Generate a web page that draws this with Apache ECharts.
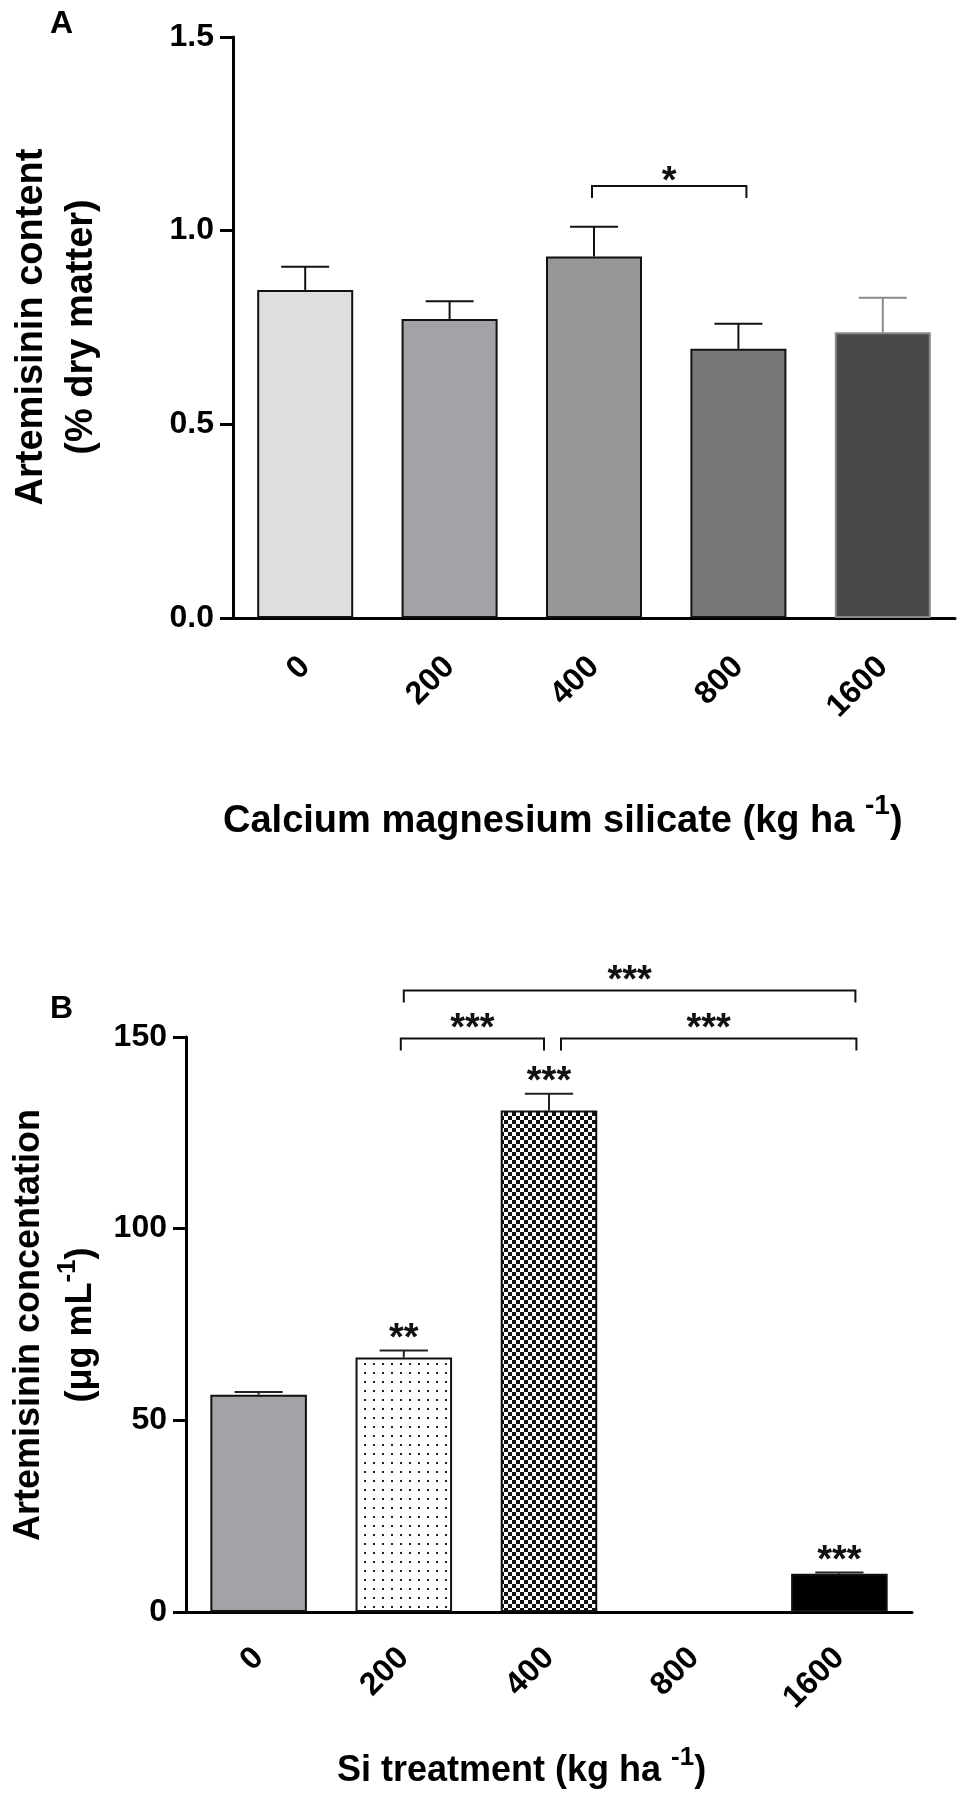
<!DOCTYPE html>
<html>
<head>
<meta charset="UTF-8">
<title>Artemisinin content</title>
<script src="https://cdn.jsdelivr.net/npm/echarts@6/dist/echarts.min.js"></script>
<style>
	html, body { margin: 0; padding: 0; background: #fff; }
	#main { width: 971px; height: 1806px; }
</style>
</head>
<body>
<div id="main"></div>
<script>
// ---- data ----
var categories = ['0', '200', '400', '800', '1600'];

// panel A: artemisinin content (% dry matter), mean and error
var contentMean = [0.847, 0.772, 0.933, 0.695, 0.738];
var contentErr = [0.060, 0.046, 0.077, 0.065, 0.089];
var ticksA = [0, 0.5, 1.0, 1.5];
// [from category, to category, height, label]
var bracketsA = [[2, 3, 1.115, '*']];

// panel B: artemisinin concentration (ug/mL), 800 has no bar
var concMean = [56.7, 66.4, 130.8, null, 10.0];
var concErr = [0.7, 1.8, 4.4, null, 0.3];
var ticksB = [0, 50, 100, 150];
var starsB = ['', '**', '***', '', '***'];
var bracketsB = [[1, 4, 162.1, '***'], [1, 2, 149.6, '***'], [2, 4, 149.6, '***']];

// ---- styles ----
var FONT = '"Liberation Sans", Arial, Helvetica, sans-serif';
var fillA = ['#dedede', '#a3a3a7', '#979797', '#787878', '#484848'];
var borderA = ['#111', '#111', '#111', '#111', '#8a8a8a'];
var errColorA = ['#111', '#111', '#111', '#111', '#8a8a8a'];
var nudgeA = [[-2, 8]];
var nudgeB = [[0, 16], [-3, -5], [12, 17]];
var STAR_SIZE = 38;

function makeTile(w, h, draw) {
	var c = document.createElement('canvas');
	c.width = w; c.height = h;
	draw(c.getContext('2d'));
	return c;
}
var dotTile = makeTile(9, 9, function (ctx) {
	ctx.fillStyle = '#fff'; ctx.fillRect(0, 0, 9, 9);
	ctx.fillStyle = '#222'; ctx.fillRect(4, 4, 2, 2);
});
var checkTile = makeTile(8, 8, function (ctx) {
	ctx.fillStyle = '#fff'; ctx.fillRect(0, 0, 8, 8);
	ctx.fillStyle = '#111'; ctx.fillRect(0, 0, 4, 4); ctx.fillRect(4, 4, 4, 4);
});
var fillB = ['#a3a3a7', { image: dotTile, repeat: 'repeat' }, { image: checkTile, repeat: 'repeat' }, '#fff', '#000'];

// ---- build series data ----
function barData(means, fills, borders) {
	return means.map(function (v, i) {
		if (v === null) return '-';
		return { value: v, itemStyle: { color: fills[i], borderColor: borders ? borders[i] : '#111', borderWidth: 2 } };
	});
}
function errData(means, errs) {
	var out = [];
	means.forEach(function (v, i) { if (v !== null) out.push([i, v, errs[i]]); });
	return out;
}

function errorBar(colors) {
	return function (params, api) {
		var i = api.value(0);
		var base = api.coord([i, api.value(1)]);
		var top = api.coord([i, api.value(1) + api.value(2)]);
		var half = api.size([1, 0])[0] * 0.166;
		var col = colors ? colors[i] : '#222';
		return {
			type: 'group',
			children: [
				{ type: 'line', shape: { x1: base[0], y1: base[1], x2: top[0], y2: top[1] }, style: { stroke: col, lineWidth: 2 } },
				{ type: 'line', shape: { x1: top[0] - half, y1: top[1], x2: top[0] + half, y2: top[1] }, style: { stroke: col, lineWidth: 2 } }
			]
		};
	};
}

function starStyle(text, x, y) {
	return { text: text, x: x, y: y,
		align: 'center', verticalAlign: 'middle', textAlign: 'center', textVerticalAlign: 'middle',
		fontSize: STAR_SIZE, fontWeight: 'bold', fontFamily: FONT, fill: '#111' };
}

function bracket(list, nudge, labelLift) {
	return function (params, api) {
		var k = params.dataIndex;
		var p0 = api.coord([list[k][0], list[k][2]]);
		var p1 = api.coord([list[k][1], list[k][2]]);
		var x0 = p0[0] + nudge[k][0], x1 = p1[0] + nudge[k][1], y = p0[1];
		return {
			type: 'group',
			children: [
				{ type: 'polyline', shape: { points: [[x0, y + 12], [x0, y], [x1, y], [x1, y + 12]] },
				  style: { stroke: '#111', lineWidth: 2, fill: null } },
				{ type: 'text', style: starStyle(list[k][3], (x0 + x1) / 2, y - labelLift) }
			]
		};
	};
}

function starOverBar(params, api) {
	var i = api.value(0);
	var p = api.coord([i, api.value(1) + api.value(2)]);
	return { type: 'text', style: starStyle(starsB[i], p[0], p[1] - 11) };
}

function xAxisCfg(grid, margin) {
	return {
		gridIndex: grid, type: 'category', data: categories,
		axisLine: { lineStyle: { color: '#000', width: 3 } },
		axisTick: { alignWithLabel: true, length: 13, lineStyle: { color: '#000', width: 3 } },
		axisLabel: { rotate: 45, margin: margin, color: '#000', fontSize: 32, fontWeight: 'bold', fontFamily: FONT },
		splitLine: { show: false }
	};
}
function yAxisCfg(grid, ticks, fmt) {
	return {
		gridIndex: grid, type: 'value',
		min: ticks[0], max: ticks[ticks.length - 1], interval: ticks[1] - ticks[0],
		axisLine: { show: true, lineStyle: { color: '#000', width: 3 } },
		axisTick: { show: true, length: 13, lineStyle: { color: '#000', width: 3 } },
		axisLabel: { margin: 19, color: '#000', fontSize: 32, fontWeight: 'bold', fontFamily: FONT, formatter: fmt },
		splitLine: { show: false }
	};
}

function textEl(x, y, text, size, align) {
	return { type: 'text', x: x, y: y, style: { text: text, fontSize: size, fontWeight: 'bold', fontFamily: FONT,
		fill: '#000', align: align || 'left', verticalAlign: 'middle', textAlign: align || 'left', textVerticalAlign: 'middle' } };
}
function richTitle(x, y, pre, post, size, supSize, lh, align) {
	return { type: 'text', x: x, y: y, style: {
		text: '{m|' + pre + '}{s|-1}{m|' + post + '}',
		rich: {
			m: { fontSize: size, fontWeight: 'bold', fontFamily: FONT, fill: '#000', lineHeight: lh },
			s: { fontSize: supSize, fontWeight: 'bold', fontFamily: FONT, fill: '#000', lineHeight: supSize, verticalAlign: 'top' }
		},
		align: align || 'left', verticalAlign: 'middle', textAlign: align || 'left', textVerticalAlign: 'middle'
	} };
}

var chart = echarts.init(document.getElementById('main'));
var option = {
	animation: false,
	backgroundColor: '#fff',
	grid: [
		{ left: 233, top: 37, width: 722, height: 581, containLabel: false, outerBoundsMode: 'none' },
		{ left: 186, top: 1037, width: 726, height: 575, containLabel: false, outerBoundsMode: 'none' }
	],
	xAxis: [xAxisCfg(0, 44), xAxisCfg(1, 41)],
	yAxis: [
		yAxisCfg(0, ticksA, function (v) { return v.toFixed(1); }),
		yAxisCfg(1, ticksB, function (v) { return String(v); })
	],
	series: [
		{ type: 'bar', xAxisIndex: 0, yAxisIndex: 0, barWidth: '66.5%', data: barData(contentMean, fillA, borderA) },
		{ type: 'custom', xAxisIndex: 0, yAxisIndex: 0, z: 5, renderItem: errorBar(errColorA), data: errData(contentMean, contentErr) },
		{ type: 'custom', xAxisIndex: 0, yAxisIndex: 0, z: 5, renderItem: bracket(bracketsA, nudgeA, 4),
		  data: bracketsA.map(function (b) { return [b[0], b[2]]; }) },
		{ type: 'bar', xAxisIndex: 1, yAxisIndex: 1, barWidth: '66.5%', data: barData(concMean, fillB) },
		{ type: 'custom', xAxisIndex: 1, yAxisIndex: 1, z: 5, renderItem: errorBar(null), data: errData(concMean, concErr) },
		{ type: 'custom', xAxisIndex: 1, yAxisIndex: 1, z: 5, renderItem: starOverBar, data: errData(concMean, concErr) },
		{ type: 'custom', xAxisIndex: 1, yAxisIndex: 1, z: 5, renderItem: bracket(bracketsB, nudgeB, 9),
		  data: bracketsB.map(function (b) { return [b[0], b[2]]; }) }
	],
	graphic: [
		textEl(50, 24, 'A', 32),
		textEl(50, 1009, 'B', 32),
		{ type: 'group', x: 57, y: 327, rotation: Math.PI / 2, children: [
			textEl(0, -25, 'Artemisinin content', 38, 'center'),
			textEl(0, 25, '(% dry matter)', 38, 'center')
		] },
		{ type: 'group', x: 55, y: 1325, rotation: Math.PI / 2, children: [
			textEl(0, -26, 'Artemisinin concentation', 36, 'center'),
			richTitle(0, 26, '(\u03bcg mL', ')', 36, 26, 52, 'center')
		] },
		richTitle(223, 822, 'Calcium magnesium silicate (kg ha ', ')', 38, 28, 60),
		richTitle(337, 1771, 'Si treatment (kg ha ', ')', 36, 26, 52)
	]
};
chart.setOption(option);
</script>
</body>
</html>
